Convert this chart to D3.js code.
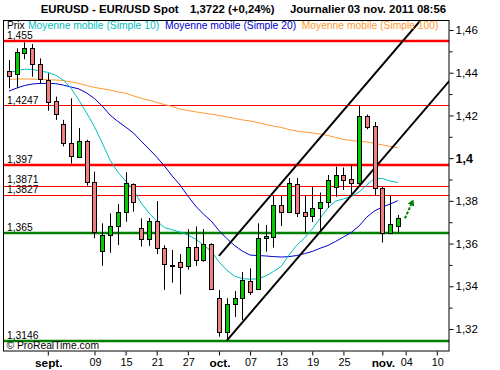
<!DOCTYPE html>
<html>
<head>
<meta charset="utf-8">
<script src="https://cdn.jsdelivr.net/npm/d3@7/dist/d3.min.js"></script>
<style>
  html, body { margin: 0; padding: 0; background: #fff; }
  svg { display: block; font-family: "Liberation Sans", Arial, sans-serif; }
</style>
</head>
<body>
<svg id="chart" width="500" height="370"></svg>
<script>
// ---------------- DATA ----------------
// trading days 25 Aug 2011 .. 03 Nov 2011 (index 0..50)
const open  = [1.4407,1.4393,1.4491,1.4514,1.4441,1.4366,1.4268,1.4158,1.4071,1.4007,1.4080,1.3888,1.3567,1.3640,1.3682,1.3746,1.3878,1.3671,1.3620,1.3706,1.3578,1.3501,1.3512,1.3495,1.3583,1.3523,1.3597,1.3344,1.3187,1.3316,1.3344,1.3426,1.3387,1.3625,1.3632,1.3781,1.3749,1.3879,1.3746,1.3729,1.3765,1.3793,1.3866,1.3921,1.3901,1.3882,1.4197,1.4150,1.3859,1.3651,1.3684];
const high  = [1.4460,1.4514,1.4542,1.4534,1.4467,1.4397,1.4288,1.4179,1.4280,1.4141,1.4086,1.3937,1.3695,1.3742,1.3785,1.3934,1.3882,1.3718,1.3720,1.3799,1.3592,1.3570,1.3551,1.3667,1.3680,1.3668,1.3601,1.3383,1.3344,1.3378,1.3467,1.3484,1.3695,1.3687,1.3823,1.3823,1.3907,1.3907,1.3823,1.3865,1.3839,1.3921,1.3960,1.3956,1.3968,1.4247,1.4204,1.4169,1.3865,1.3825,1.3734];
const low   = [1.4327,1.4327,1.4463,1.4381,1.4350,1.4222,1.4179,1.4055,1.3975,1.4003,1.3871,1.3625,1.3496,1.3557,1.3593,1.3702,1.3749,1.3586,1.3589,1.3551,1.3383,1.3417,1.3362,1.3478,1.3495,1.3515,1.3386,1.3164,1.3146,1.3256,1.3242,1.3359,1.3383,1.3562,1.3581,1.3682,1.3745,1.3724,1.3652,1.3701,1.3664,1.3767,1.3819,1.3851,1.3827,1.3870,1.4135,1.3827,1.3605,1.3651,1.3651];
const close = [1.4386,1.4496,1.4514,1.4439,1.4369,1.4264,1.4205,1.4070,1.4008,1.4080,1.3890,1.3656,1.3640,1.3682,1.3746,1.3882,1.3793,1.3620,1.3706,1.3578,1.3503,1.3499,1.3492,1.3583,1.3523,1.3597,1.3386,1.3187,1.3316,1.3344,1.3429,1.3375,1.3625,1.3634,1.3781,1.3749,1.3882,1.3745,1.3730,1.3765,1.3795,1.3898,1.3921,1.3899,1.3882,1.4197,1.4147,1.3859,1.3651,1.3690,1.3722];

const ma10  = [1.4401,1.4409,1.4416,1.4416,1.4407,1.4402,1.4389,1.4366,1.4327,1.4272,1.4211,1.4147,1.4071,1.3991,1.3935,1.3893,1.3851,1.3790,1.3743,1.3706,1.3675,1.3664,1.3654,1.3640,1.3621,1.3593,1.3565,1.3514,1.3476,1.3448,1.3436,1.3433,1.3435,1.3448,1.3469,1.3493,1.3546,1.3593,1.3626,1.3668,1.3718,1.3767,1.3799,1.3809,1.3820,1.3841,1.3874,1.3905,1.3905,1.3893,1.3886];
const ma20  = [1.4314,1.4328,1.4340,1.4347,1.4350,1.4350,1.4349,1.4342,1.4333,1.4324,1.4305,1.4279,1.4244,1.4202,1.4172,1.4146,1.4118,1.4080,1.4043,1.4005,1.3963,1.3916,1.3874,1.3823,1.3776,1.3738,1.3706,1.3661,1.3624,1.3591,1.3565,1.3546,1.3544,1.3542,1.3539,1.3537,1.3539,1.3544,1.3553,1.3563,1.3578,1.3591,1.3610,1.3631,1.3652,1.3682,1.3724,1.3753,1.3771,1.3785,1.3801];
const ma100 = [1.4369,1.4370,1.4371,1.4370,1.4369,1.4367,1.4366,1.4363,1.4357,1.4350,1.4340,1.4331,1.4325,1.4319,1.4310,1.4304,1.4292,1.4280,1.4271,1.4261,1.4251,1.4242,1.4230,1.4223,1.4217,1.4211,1.4206,1.4200,1.4193,1.4186,1.4179,1.4174,1.4166,1.4158,1.4150,1.4144,1.4134,1.4127,1.4122,1.4118,1.4113,1.4106,1.4097,1.4087,1.4083,1.4078,1.4076,1.4069,1.4062,1.4055,1.4049];

// horizontal support / resistance levels
const levelValues = [1.455, 1.4247, 1.397, 1.3871, 1.3827, 1.365, 1.3146];
const levelLabels = ["1,455", "1,4247", "1,397", "1,3871", "1,3827", "1,365", "1,3146"];
const levelKinds  = ["resMajor", "resMinor", "resMajor", "resMinor", "resMinor", "support", "support"];

// trend channel lines: [index, value] pairs
const channelUpper = [[27, 1.3542], [53, 1.4649]];
const channelLower = [[28, 1.3146], [56.6, 1.4361]];
const arrowPoints  = [[50.9, 1.3718], [52.0, 1.3806]];

// axis ticks
const xTickIndex  = [5, 11, 15, 19, 23, 27, 31, 35, 39, 43, 48, 51, 55];
const xTickLabels = ["sept.", "09", "15", "21", "27", "oct.", "07", "13", "19", "25", "nov.", "04", "10"];
const yTickValues = [1.32, 1.34, 1.36, 1.38, 1.40, 1.42, 1.44, 1.46];
const yTickLabels = ["1,32", "1,34", "1,36", "1,38", "1,4", "1,42", "1,44", "1,46"];
const yMinorTicks = [1.33, 1.35, 1.37, 1.39, 1.41, 1.43, 1.45];

const headerParts = ["EURUSD - EUR/USD Spot", "1,3722 (+0,24%)", "Journalier", "03 nov. 2011 08:56"];
const legendParts = ["Prix", "Moyenne mobile (Simple 10)", "Moyenne mobile (Simple 20)", "Moyenne mobile (Simple 100)"];

// ---------------- DRAW ----------------
const svg = d3.select("#chart");
const L = 4, R = 449, T = 20, B = 351;

const x = d3.scaleLinear().domain([-0.63, 56.57]).range([L, R]);
const y = d3.scaleLinear().domain([1.32, 1.46]).range([329, 30]);

const COL = {
  red: "#ff0000", green: "#008000", candleUp: "#00cc00", candleDown: "#f08080",
  ma10: "#00c0c0", ma20: "#0000cc", ma100: "#ff9933"
};

svg.append("defs").append("clipPath").attr("id", "plotclip")
  .append("rect").attr("x", L).attr("y", T + 1).attr("width", R - L).attr("height", B - T - 1);

const plot = svg.append("g").attr("clip-path", "url(#plotclip)");

// levels
const levelStyle = {
  resMajor: { color: COL.red, width: 2.5 },
  resMinor: { color: COL.red, width: 1 },
  support:  { color: COL.green, width: 2.5 }
};
levelValues.forEach((v, i) => {
  const st = levelStyle[levelKinds[i]];
  const yy = st.width === 1 ? Math.round(y(v)) + 0.5 : Math.round(y(v));
  plot.append("line").attr("x1", L).attr("x2", R).attr("y1", yy).attr("y2", yy)
    .attr("stroke", st.color).attr("stroke-width", st.width);
});

// moving averages
const idx = d3.range(open.length);
const lineGen = arr => d3.line().x(i => x(i)).y(i => y(arr[i]))(idx);
[[ma100, COL.ma100], [ma20, COL.ma20], [ma10, COL.ma10]].forEach(([arr, c]) => {
  plot.append("path").attr("d", lineGen(arr)).attr("fill", "none")
    .attr("stroke", c).attr("stroke-width", 1);
});

// channel lines
const segLine = d3.line().x(d => x(d[0])).y(d => y(d[1]));
[channelUpper, channelLower].forEach(pts => {
  plot.append("path").attr("d", segLine(pts)).attr("fill", "none")
    .attr("stroke", "#000").attr("stroke-width", 2);
});

// candles
const cg = plot.append("g");
idx.forEach(i => {
  const px = Math.round(x(i));
  const up = close[i] >= open[i];
  cg.append("line").attr("x1", px + 0.5).attr("x2", px + 0.5)
    .attr("y1", y(high[i])).attr("y2", y(low[i]))
    .attr("stroke", "#000").attr("stroke-width", 1);
  const top = Math.round(y(Math.max(open[i], close[i])));
  const bot = Math.round(y(Math.min(open[i], close[i])));
  const h = Math.max(bot - top, 1);
  cg.append("rect").attr("x", px - 1.5).attr("y", top + 0.5)
    .attr("width", 4).attr("height", h)
    .attr("fill", up ? COL.candleUp : COL.candleDown)
    .attr("stroke", "#000").attr("stroke-width", 1);
});

// arrow
const a0 = arrowPoints[0], a1 = arrowPoints[1];
const ax0 = x(a0[0]), ay0 = y(a0[1]), ax1 = x(a1[0]), ay1 = y(a1[1]);
const ang = Math.atan2(ay1 - ay0, ax1 - ax0);
const hl = 6, hw = 3.5;
const bx = ax1 - hl * Math.cos(ang), by = ay1 - hl * Math.sin(ang);
plot.append("line").attr("x1", ax0).attr("y1", ay0).attr("x2", bx).attr("y2", by)
  .attr("stroke", COL.green).attr("stroke-width", 2).attr("stroke-dasharray", "3,1.5");
plot.append("path")
  .attr("d", `M${ax1},${ay1}L${bx + hw * Math.sin(ang)},${by - hw * Math.cos(ang)}L${bx - hw * Math.sin(ang)},${by + hw * Math.cos(ang)}Z`)
  .attr("fill", COL.green);

// level labels
levelValues.forEach((v, i) => {
  const off = levelLabels[i] === "1,3871" ? 2.6 : 1.6;
  svg.append("text").attr("x", 7).attr("y", y(v) - off)
    .attr("font-size", "10.3px").attr("fill", "#000").text(levelLabels[i]);
});

// copyright
svg.append("text").attr("x", 6.5).attr("y", 349).attr("font-size", "10.3px")
  .attr("fill", "#000").text("\u00A9 ProRealTime.com");

// legend
const legendX = [7, 28, 165, 301.7];
const legendC = ["#000", COL.ma10, COL.ma20, COL.ma100];
legendParts.forEach((t, i) => {
  svg.append("text").attr("x", legendX[i]).attr("y", 29).attr("font-size", "10.3px")
    .attr("fill", legendC[i]).text(t);
});

// header
const headerX = [40.7, 190, 290, 347.5];
headerParts.forEach((t, i) => {
  svg.append("text").attr("x", headerX[i]).attr("y", 13.3).attr("font-size", "11.4px")
    .attr("font-weight", "bold").attr("fill", "#000").text(t);
});

// frame
svg.append("rect").attr("x", 3.5).attr("y", 20.5).attr("width", R - 3.5).attr("height", B - 20.5)
  .attr("fill", "none").attr("stroke", "#000").attr("stroke-width", 1);

// right axis
const yAxis = d3.axisRight(y).tickValues(yTickValues).tickSize(4).tickPadding(2)
  .tickFormat((d, i) => yTickLabels[i]);
const gy = svg.append("g").attr("transform", `translate(${R + 0.5},0)`).call(yAxis);
gy.select(".domain").remove();
gy.selectAll("text").attr("font-family", "Liberation Sans, Arial, sans-serif")
  .attr("fill", "#000")
  .attr("font-weight", (d, i) => yTickLabels[i] === "1,4" ? "bold" : "normal")
  .attr("font-size", (d, i) => yTickLabels[i] === "1,4" ? "12.5px" : "11.5px");
gy.selectAll("line").attr("stroke", "#000");
const yMinor = d3.axisRight(y).tickValues(yMinorTicks).tickSize(3).tickFormat("");
const gym = svg.append("g").attr("transform", `translate(${R + 0.5},0)`).call(yMinor);
gym.select(".domain").remove();
gym.selectAll("line").attr("stroke", "#000");

// bottom axis
const xAxis = d3.axisBottom(x).tickValues(xTickIndex).tickSize(4).tickPadding(3)
  .tickFormat((d, i) => xTickLabels[i]);
const gx = svg.append("g").attr("transform", `translate(0.5,${B + 0.5})`).call(xAxis);
gx.select(".domain").remove();
gx.selectAll("line").attr("stroke", "#000").attr("transform", "translate(-0.5,0)");
gx.selectAll("text").attr("fill", "#000").attr("font-family", "Liberation Sans, Arial, sans-serif")
  .attr("font-weight", (d, i) => xTickLabels[i].endsWith(".") ? "bold" : "normal")
  .attr("font-size", (d, i) => xTickLabels[i].endsWith(".") ? "11.8px" : "10.8px");
</script>
</body>
</html>
